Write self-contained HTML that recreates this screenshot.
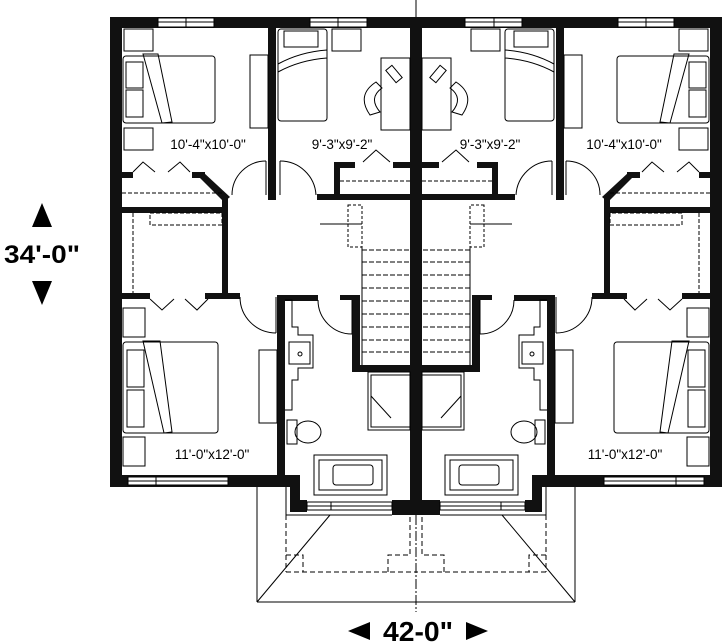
<!DOCTYPE html>
<html><head><style>
html,body{margin:0;padding:0;background:#fff;width:725px;height:644px;overflow:hidden}
svg{display:block}
text{font-family:"Liberation Sans",sans-serif;fill:#000}
</style></head><body>
<svg width="725" height="644" viewBox="0 0 725 644" xmlns="http://www.w3.org/2000/svg">
<defs>
<g id="half">
  <g fill="#111">
    <rect x="110" y="17" width="12" height="470"/>
    <rect x="110" y="17" width="306" height="11"/>
    <rect x="268" y="28" width="8" height="172"/>
    <rect x="122" y="172" width="11" height="6"/>
    <rect x="192" y="172" width="13" height="6"/>
    <polygon points="203,172 230,197 224,202 200,178"/>
    <rect x="122" y="207" width="106" height="6"/>
    <rect x="222" y="197" width="6" height="101"/>
    <rect x="122" y="293" width="28" height="6"/>
    <rect x="205" y="293" width="35" height="6"/>
    <rect x="277" y="295" width="41" height="6"/>
    <rect x="277" y="295" width="8" height="192"/>
    <rect x="110" y="475" width="190" height="12"/>
    <rect x="290" y="475" width="10" height="37"/>
    <rect x="290" y="500" width="17" height="12"/>
    <rect x="392" y="500" width="24" height="15"/>
    <rect x="317" y="194" width="99" height="6"/>
    <rect x="334" y="162" width="6" height="38"/>
    <rect x="334" y="162" width="21" height="6"/>
    <rect x="393" y="162" width="23" height="6"/>
    <rect x="352" y="295" width="8" height="77"/>
    <rect x="352" y="365" width="58" height="7"/>
    <rect x="340" y="295" width="20" height="5"/>
    <rect x="410" y="17" width="6" height="498"/>
  </g>
  <g fill="#fff" stroke="#000" stroke-width="1">
    <rect x="158" y="18" width="56" height="9"/>
    <line x1="186" y1="18" x2="186" y2="27"/>
    <line x1="158" y1="22" x2="214" y2="22"/>
    <rect x="310" y="18" width="57" height="9"/>
    <line x1="338" y1="18" x2="338" y2="27"/>
    <line x1="310" y1="22" x2="367" y2="22"/>
    <rect x="128" y="477" width="100" height="8"/>
    <line x1="156" y1="477" x2="156" y2="485"/>
    <line x1="128" y1="481" x2="228" y2="481"/>
    <rect x="307" y="502" width="85" height="8"/>
    <line x1="331" y1="502" x2="331" y2="510"/>
    <line x1="307" y1="506" x2="392" y2="506"/>
  </g>
  <g fill="none" stroke="#000" stroke-width="1">
    <path d="M232,195 A34,34 0 0 1 266,161"/>
    <line x1="266" y1="161" x2="266" y2="195"/>
    <path d="M280,161 A36,36 0 0 1 316,195"/>
    <line x1="280" y1="161" x2="280" y2="195"/>
    <path d="M240,297 A36,36 0 0 0 276,333"/>
    <line x1="276" y1="297" x2="276" y2="333"/>
    <path d="M318,300 A34,34 0 0 0 352,334"/>
    <line x1="352" y1="300" x2="352" y2="334"/>
    <polyline points="133,172 143,162 155,172"/>
    <polyline points="168,172 180,162 190,172"/>
    <polyline points="150,299 162,310 174,299"/>
    <polyline points="185,299 197,310 208,299"/>
    <polyline points="363,162 376,150 390,162"/>
    <line x1="122" y1="193" x2="222" y2="193" stroke-dasharray="4,2"/>
    <line x1="340" y1="181" x2="410" y2="181" stroke-dasharray="4,2"/>
    <line x1="133" y1="213" x2="133" y2="293" stroke-dasharray="4,2"/>
    <rect x="150" y="213" width="72" height="12" stroke-dasharray="4,2"/>
    <rect x="124" y="29" width="29" height="22"/>
    <rect x="124" y="128" width="29" height="22"/>
    <rect x="123" y="56" width="92" height="67" rx="3"/>
    <rect x="126" y="62" width="17" height="26"/><rect x="126" y="90" width="17" height="27"/>
    <path d="M143,54 L158,54 L172,122 L162,123 Z"/>
    <rect x="250" y="55" width="18" height="73"/>
    <rect x="278" y="29" width="49" height="92" rx="3"/>
    <rect x="284" y="31" width="34" height="16"/>
    <path d="M278,72 Q300,60 327,58 L327,50 Q300,52 278,64"/>
    <rect x="332" y="29" width="29" height="22"/>
    <rect x="381" y="58" width="29" height="72"/>
    <rect x="390" y="66" width="8" height="16" transform="rotate(-40 394 74)"/>
    <path d="M376,82 Q356,95 370,115 L380,112 Q368,98 382,88 Z"/>
    <rect x="123" y="308" width="22" height="29"/>
    <rect x="123" y="437" width="22" height="29"/>
    <rect x="123" y="342" width="95" height="91" rx="3"/>
    <rect x="127" y="350" width="17" height="37"/><rect x="127" y="390" width="17" height="37"/>
    <path d="M143,341 L160,341 L172,432 L164,433 Z"/>
    <rect x="259" y="350" width="18" height="73"/>
    <path d="M285,300 L292,300 L292,327 L298,327 L298,335 L313,335 L313,368 L298,368 L298,380 L292,380 L292,410 L285,410"/>
    <rect x="289" y="342" width="21" height="22"/>
    <circle cx="300" cy="354" r="2"/>
    <rect x="287" y="420" width="10" height="24"/>
    <ellipse cx="308" cy="432" rx="13" ry="11"/>
    <rect x="314" y="455" width="73" height="40"/>
    <rect x="319" y="460" width="63" height="30"/>
    <rect x="333" y="465" width="40" height="20" rx="3"/>
    <rect x="368" y="372" width="42" height="58"/>
    <rect x="371" y="375" width="39" height="52"/>
    <line x1="371" y1="396" x2="391" y2="418"/>
    <rect x="348" y="205" width="14" height="42" stroke-dasharray="3,2"/>
    <line x1="320" y1="224" x2="362" y2="224"/>
    <line x1="362" y1="247" x2="362" y2="365"/>
    <g stroke-dasharray="5,2">
      <line x1="362" y1="250" x2="410" y2="250"/><line x1="362" y1="262" x2="410" y2="262"/>
      <line x1="362" y1="275" x2="410" y2="275"/><line x1="362" y1="288" x2="410" y2="288"/>
      <line x1="362" y1="301" x2="410" y2="301"/><line x1="362" y1="314" x2="410" y2="314"/>
      <line x1="362" y1="327" x2="410" y2="327"/><line x1="362" y1="340" x2="410" y2="340"/>
      <line x1="362" y1="352" x2="410" y2="352"/>
    </g>
    <line x1="257" y1="487" x2="257" y2="602"/>
    <line x1="257" y1="602" x2="416" y2="602"/>
    <line x1="286" y1="487" x2="286" y2="515"/>
    <line x1="257" y1="602" x2="330" y2="515"/>
    <line x1="286" y1="515" x2="392" y2="515"/>
    <g stroke-dasharray="5,3">
      <line x1="286" y1="515" x2="286" y2="572"/>
      <line x1="286" y1="572" x2="416" y2="572"/>
      <polyline points="286,555 303,555 303,572"/>
      <polyline points="388,572 388,555 410,555 410,515"/>
    </g>
  </g>
</g>
</defs>
<use href="#half"/>
<use href="#half" transform="matrix(-1,0,0,1,832,0)"/>
<line x1="416" y1="0" x2="416" y2="17" stroke="#000"/>
<line x1="416" y1="515" x2="416" y2="612" stroke="#000" stroke-dasharray="10,2,2,2"/>
<g font-size="13.5">
<text x="208" y="149" text-anchor="middle">10'-4"x10'-0"</text>
<text x="342" y="149" text-anchor="middle">9'-3"x9'-2"</text>
<text x="490" y="149" text-anchor="middle">9'-3"x9'-2"</text>
<text x="624" y="149" text-anchor="middle">10'-4"x10'-0"</text>
<text x="212" y="459" text-anchor="middle">11'-0"x12'-0"</text>
<text x="625" y="459" text-anchor="middle">11'-0"x12'-0"</text>
</g>
<polygon points="42,203 32,227 52,227" fill="#000"/>
<polygon points="42,305 32,281 52,281" fill="#000"/>
<text x="42" y="263" font-size="25" font-weight="bold" text-anchor="middle" textLength="76" lengthAdjust="spacingAndGlyphs">34'-0"</text>
<polygon points="348,631 370,622 370,640" fill="#000"/>
<polygon points="488,631 466,622 466,640" fill="#000"/>
<text x="418" y="641" font-size="28" font-weight="bold" text-anchor="middle" textLength="70" lengthAdjust="spacingAndGlyphs">42-0"</text>
</svg>
</body></html>
